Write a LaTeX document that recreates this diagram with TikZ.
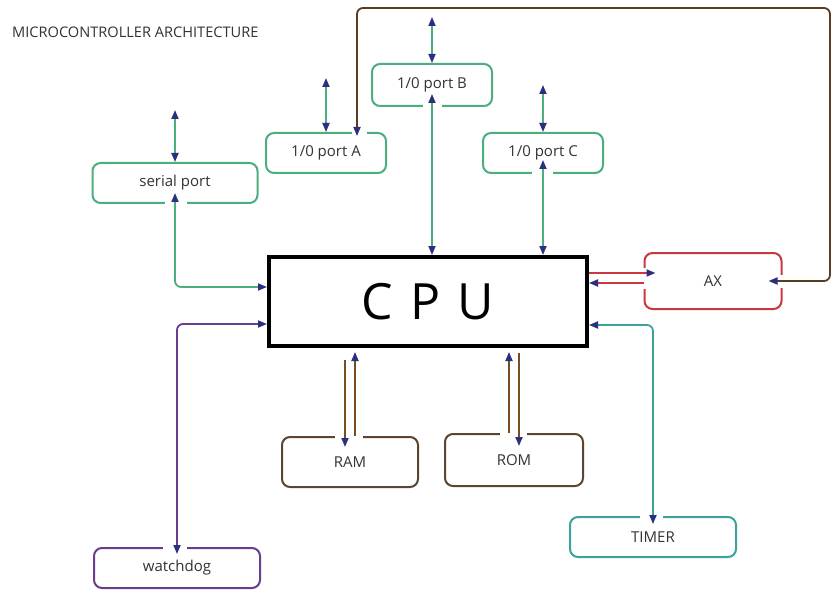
\documentclass[tikz,border=0pt]{standalone}
\usepackage{fontspec}
\setmainfont{Open Sans}
\usetikzlibrary{arrows.meta,calc}

\definecolor{txt}{HTML}{333333}
\definecolor{navy}{HTML}{2B2F7E}
\definecolor{lgreen}{HTML}{4AAE7E}
\definecolor{busbrown}{HTML}{5A3C22}
\definecolor{membrown}{HTML}{5A4630}
\definecolor{memwire}{HTML}{7A4C22}
\definecolor{axred}{HTML}{C8383F}
\definecolor{wdpurple}{HTML}{6A3D8E}
\definecolor{tmteal}{HTML}{3AA39A}

\tikzset{
  >={Triangle[length=9pt,width=7pt,color=navy]},
  box/.style={draw, rounded corners=8pt, line width=2pt, inner sep=0pt,
    minimum height=40pt, text=txt, font=\fontsize{15}{17}\selectfont},
  wire/.style={line width=1.8pt},
  gap/.style={fill=white},
}

\begin{document}
\begin{tikzpicture}[x=1pt,y=-1pt]
\useasboundingbox[fill=white] (0,0) rectangle (836,591);

\node[anchor=west, text=txt, font=\fontsize{14.6}{16}\selectfont, inner sep=0pt] (title) at (12,32) {MICROCONTROLLER ARCHITECTURE};

% blocks
\node[box, draw=lgreen, minimum width=165pt] (sp) at (175,183) {serial port};
\node[box, draw=lgreen, minimum width=120pt] (pa) at (326,153) {1/0 port A};
\node[box, draw=lgreen, minimum width=120pt, minimum height=42pt] (pb) at (432,85) {1/0 port B};
\node[box, draw=lgreen, minimum width=120pt] (pc) at (543,153) {1/0 port C};
\node[draw, line width=4pt, minimum width=318pt, minimum height=89pt, inner sep=0pt,
  font=\fontsize{50}{52}\selectfont, text=black] (cpu) at (428,301.5) {C\hspace{17pt}P\hspace{17pt}U};
\node[box, draw=axred, minimum width=137pt, minimum height=56pt] (ax) at (713,281) {AX};
\node[box, draw=membrown, minimum width=136pt, minimum height=50pt] (ram) at (350,462) {RAM};
\node[box, draw=membrown, minimum width=138pt, minimum height=52pt] (rom) at (514,460) {ROM};
\node[box, draw=wdpurple, minimum width=166pt] (wd) at (177,568) {watchdog};
\node[box, draw=tmteal, minimum width=166pt] (tm) at (653,537) {TIMER};

% openings in the borders where the wires enter
\fill[gap] ($(sp.south)+(-10,-3.5)$) rectangle ($(sp.south)+(12,3.5)$);
\fill[gap] ($(pa.north)+(26,-3.5)$) rectangle ($(pa.north)+(41,3.5)$);
\fill[gap] ($(pb.south)+(-9,-3.5)$) rectangle ($(pb.south)+(10,3.5)$);
\fill[gap] ($(pc.south)+(-11,-3.5)$) rectangle ($(pc.south)+(10,3.5)$);
\fill[gap] ($(ax.west)+(-3.5,-13)$) rectangle ($(ax.west)+(3.5,8)$);
\fill[gap] ($(ax.east)+(-3.5,-6)$) rectangle ($(ax.east)+(3.5,7)$);
\fill[gap] ($(ram.north)+(-15,-3.5)$) rectangle ($(ram.north)+(13,3.5)$);
\fill[gap] ($(rom.north)+(-14,-3.5)$) rectangle ($(rom.north)+(13,3.5)$);
\fill[gap] ($(wd.north)+(-14,-3.5)$) rectangle ($(wd.north)+(10,3.5)$);
\fill[gap] ($(tm.north)+(-13,-3.5)$) rectangle ($(tm.north)+(10,3.5)$);

% external pins of the ports
\coordinate (spio) at (175,110);
\coordinate (paio) at (326,78);
\coordinate (pbio) at (432,17);
\coordinate (pcio) at (543,85);
\draw[wire, lgreen, <->] (spio) -- (sp.north);
\draw[wire, lgreen, <->] (paio) -- (pa.north);
\draw[wire, lgreen, <->] (pbio) -- (pb.north);
\draw[wire, lgreen, <->] (pcio) -- (pc.north);

% ports to CPU
\draw[wire, lgreen, <->, shorten >=-13pt] (cpu.north -| pb.south) -- (pb.south);
\draw[wire, lgreen, <->, shorten >=-14pt] (cpu.north -| pc.south) -- (pc.south);
\draw[wire, lgreen, <->, rounded corners=6pt, shorten <=-11pt] (sp.south) |- (cpu.west |- 0,287);

% watchdog and timer
\draw[wire, wdpurple, <->, rounded corners=6pt, shorten >=-7pt] (cpu.west |- 0,324) -| (wd.north);
\draw[wire, tmteal, <->, rounded corners=6pt, shorten >=-8pt] (cpu.east |- 0,325) -| (tm.north);

% CPU <-> AX
\draw[wire, axred, ->, shorten >=-12pt] (cpu.east |- 0,273) -- (ax.west |- 0,273);
\draw[wire, axred, ->] (ax.west |- 0,283) -- (cpu.east |- 0,283);

% AX bus to port A
\coordinate (bus1) at (830,8);
\coordinate (bus2) at (357,8);
\draw[wire, busbrown, <->, rounded corners=6pt, shorten <=-14pt, shorten >=-4pt]
  (ax.east |- 0,281) -- (bus1 |- 0,281) -- (bus1) -- (bus2) -- (bus2 |- pa.north);

% memories
\draw[wire, memwire, ->] ($(ram.north |- cpu.south)+(-5,12)$) -- ($(ram.north)+(-5,11)$);
\draw[wire, memwire, ->] ($(ram.north)+(5,0)$) -- ($(ram.north |- cpu.south)+(5,4)$);
\draw[wire, memwire, ->] ($(rom.north)+(-5,0)$) -- ($(rom.north |- cpu.south)+(-5,4)$);
\draw[wire, memwire, ->] ($(rom.north |- cpu.south)+(5,5)$) -- ($(rom.north)+(5,13)$);
\end{tikzpicture}
\end{document}
